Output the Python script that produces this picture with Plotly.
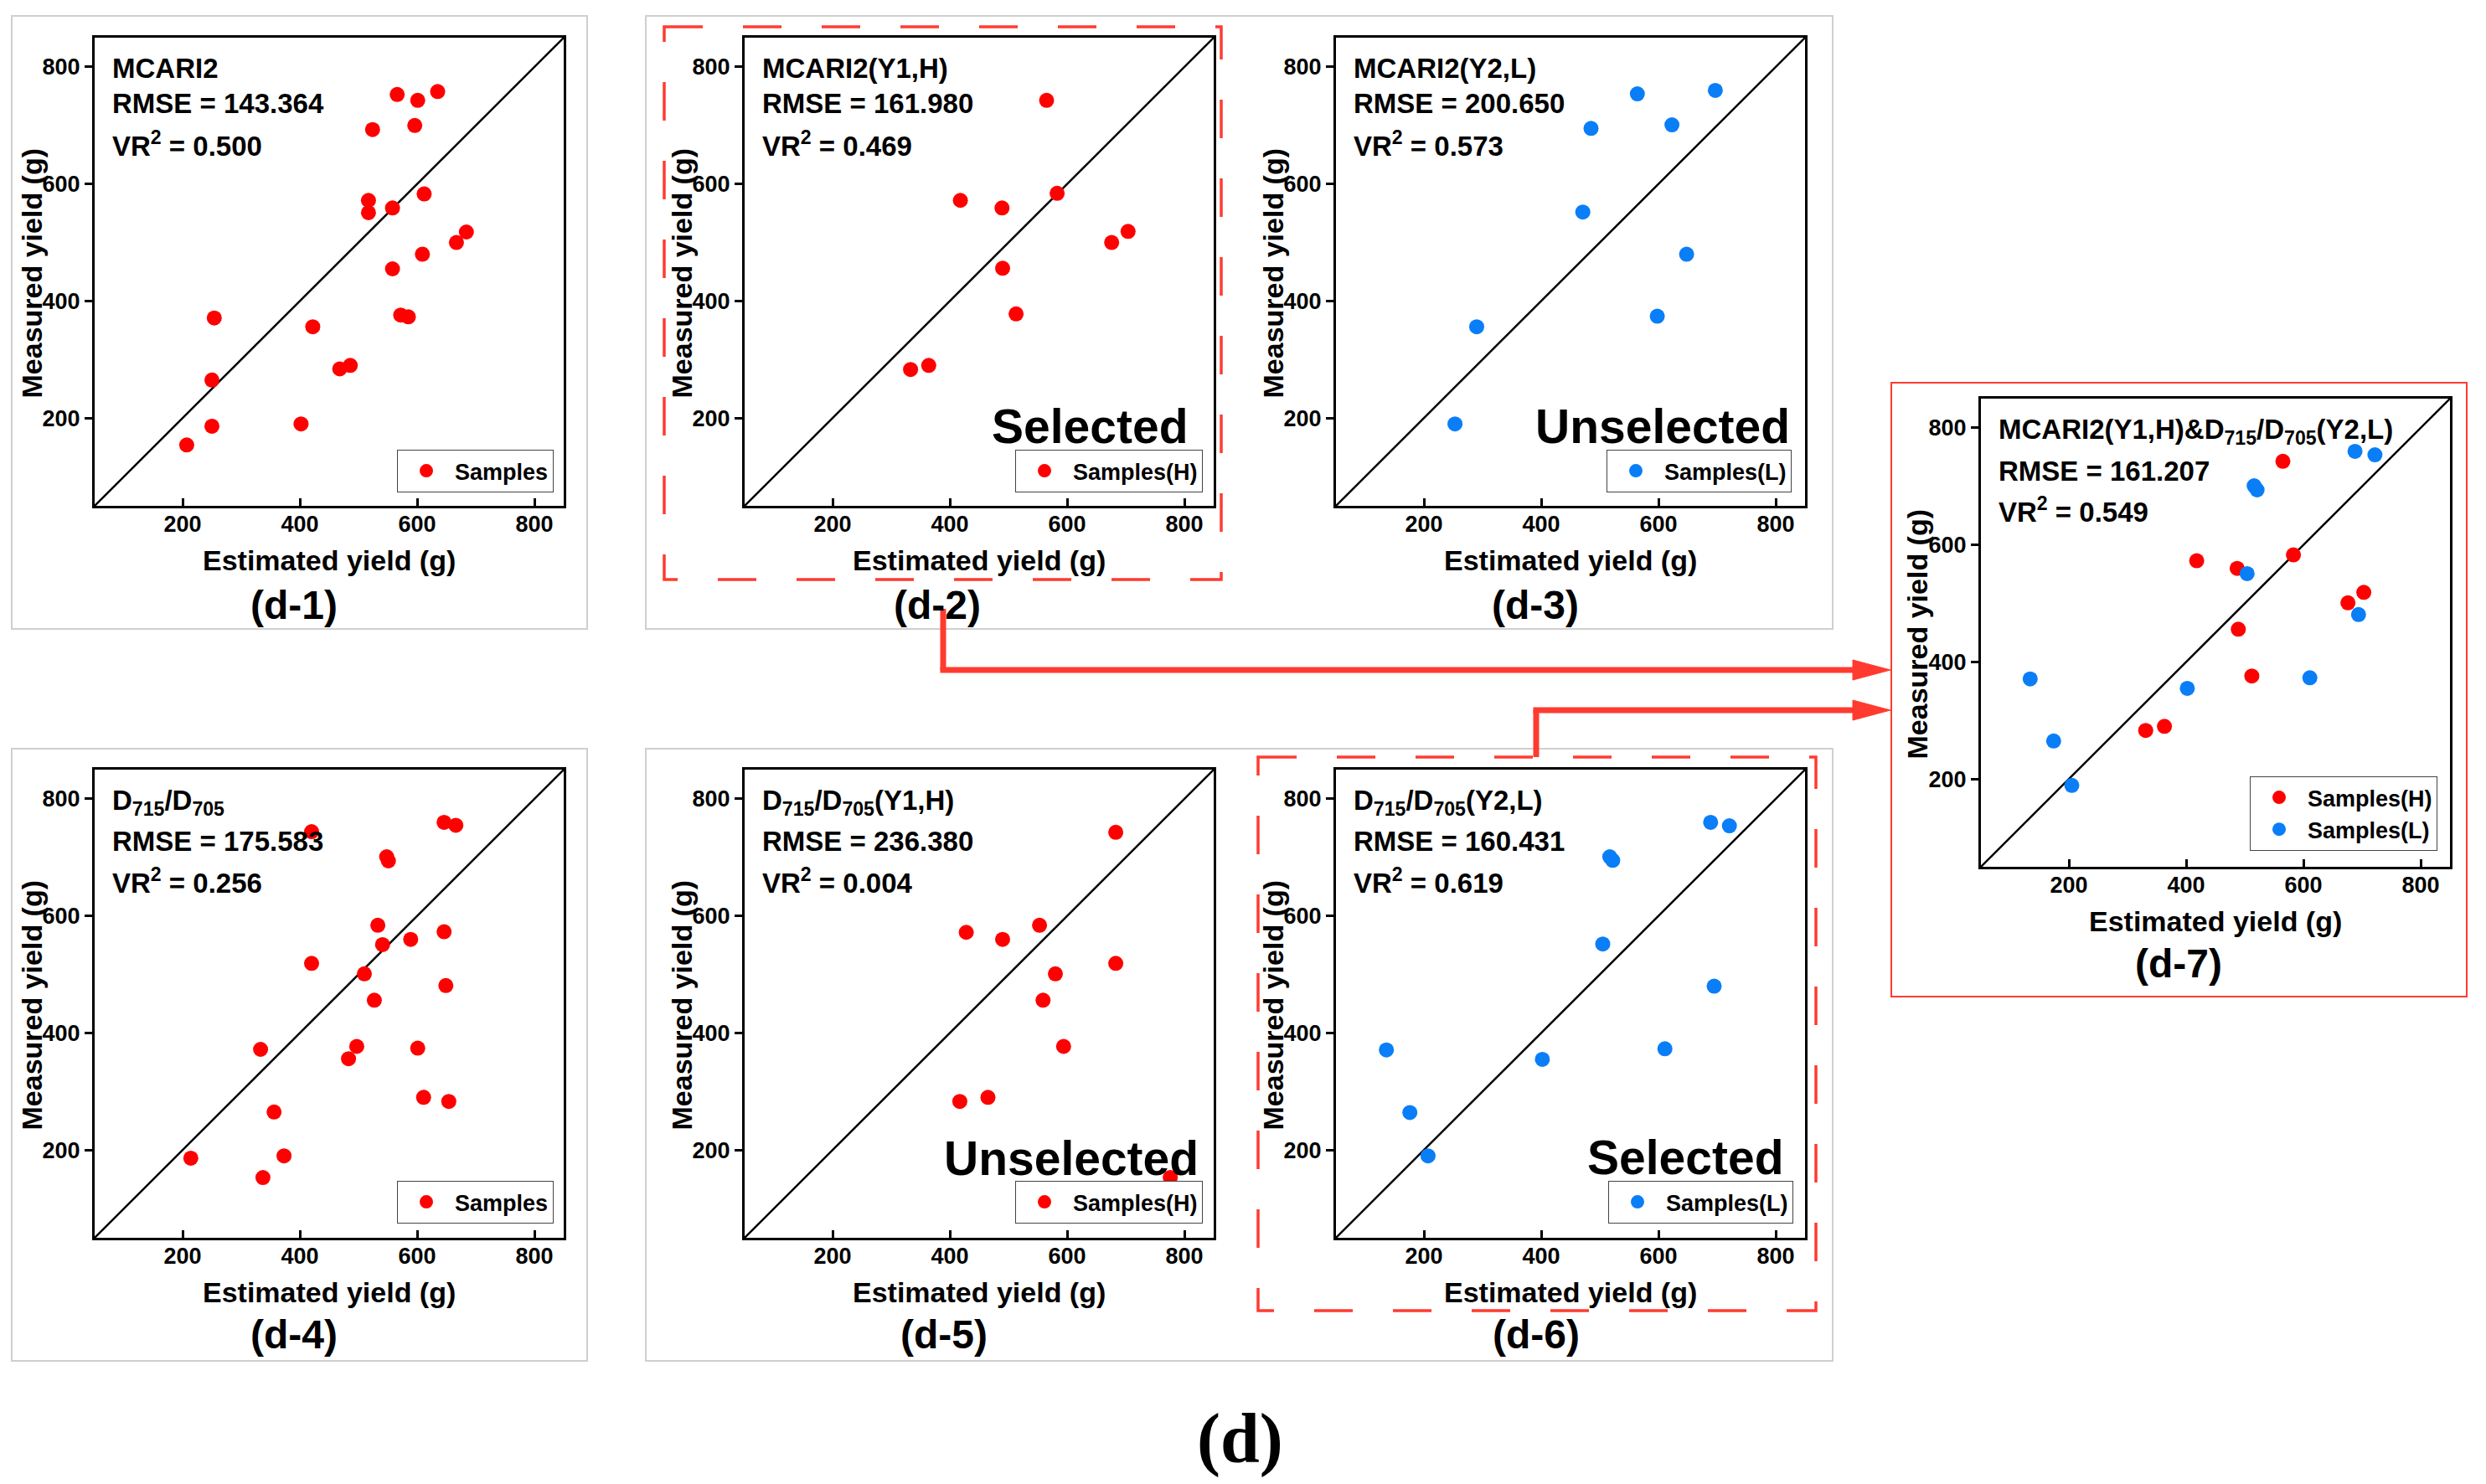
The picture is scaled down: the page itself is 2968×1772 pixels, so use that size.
import plotly.graph_objects as go

W, H = 2968, 1772

# ---------------- data ----------------
tick_vals = [200, 400, 600, 800]
axis_range = [50, 850]

d1_est = [207, 250, 250, 254, 402, 422, 468, 486, 517, 517, 524, 558, 558, 566, 572, 585, 596, 601, 609, 612, 635, 667, 684]
d1_meas = [154, 186, 265, 371, 190, 356, 284, 290, 551, 572, 693, 559, 455, 753, 376, 373, 700, 743, 480, 583, 758, 500, 518]

d2_est = [565, 418, 489, 583, 676, 704, 490, 513, 333, 364]
d2_meas = [743, 572, 559, 584, 500, 519, 456, 378, 283, 290]

d3_est = [564, 697, 485, 623, 471, 648, 598, 290, 253]
d3_meas = [754, 760, 695, 701, 552, 480, 374, 356, 190]

d4_est = [420, 646, 666, 548, 551, 533, 541, 589, 646, 420, 510, 527, 649, 333, 497, 483, 601, 611, 654, 356, 214, 373, 337]
d4_meas = [744, 760, 755, 701, 694, 584, 551, 560, 573, 519, 501, 456, 481, 372, 377, 356, 374, 290, 283, 265, 186, 190, 153]

d5_est = [683, 428, 490, 553, 580, 683, 559, 594, 417, 465, 776]
d5_meas = [743, 572, 560, 584, 501, 519, 456, 377, 283, 290, 153]

d6_est = [689, 721, 517, 522, 505, 695, 611, 136, 402, 176, 207]
d6_meas = [760, 754, 701, 695, 552, 480, 373, 371, 355, 264, 190]

d7_h_est = [565, 418, 487, 583, 676, 703, 489, 512, 331, 363]
d7_h_meas = [743, 573, 560, 583, 501, 519, 456, 376, 283, 290]
d7_l_est = [688, 722, 516, 521, 504, 694, 611, 134, 402, 174, 205]
d7_l_meas = [760, 754, 701, 694, 551, 481, 373, 371, 355, 265, 189]

names = ["MCARI2", "MCARI2(Y1,H)", "MCARI2(Y2,L)",
         "D<sub>715</sub>/D<sub>705</sub>", "D<sub>715</sub>/D<sub>705</sub>(Y1,H)",
         "D<sub>715</sub>/D<sub>705</sub>(Y2,L)",
         "MCARI2(Y1,H)&amp;D<sub>715</sub>/D<sub>705</sub>(Y2,L)"]
rmse_vals = ["143.364", "161.980", "200.650", "175.583", "236.380", "160.431", "161.207"]
vr2_vals = ["0.500", "0.469", "0.573", "0.256", "0.004", "0.619", "0.549"]
panel_labels = ["(d-1)", "(d-2)", "(d-3)", "(d-4)", "(d-5)", "(d-6)", "(d-7)"]
status_text = {2: "Selected", 3: "Unselected", 5: "Unselected", 6: "Selected"}

RED = "#FF0000"
BLUE = "#0A7EF7"
ARROW = "#FF3B30"
FONT = "Liberation Sans, Arial, sans-serif"

series = {
    1: [("Samples", d1_est, d1_meas, RED)],
    2: [("Samples(H)", d2_est, d2_meas, RED)],
    3: [("Samples(L)", d3_est, d3_meas, BLUE)],
    4: [("Samples", d4_est, d4_meas, RED)],
    5: [("Samples(H)", d5_est, d5_meas, RED)],
    6: [("Samples(L)", d6_est, d6_meas, BLUE)],
    7: [("Samples(H)", d7_h_est, d7_h_meas, RED), ("Samples(L)", d7_l_est, d7_l_meas, BLUE)],
}

# ---------------- layout geometry (pixels) ----------------
def X(px):
    return px / W

def Y(py):
    return 1 - py / H

BW, BH = 560, 559
boxes = {1: (113, 45), 2: (889, 45), 3: (1595, 45),
         4: (113, 919), 5: (889, 919), 6: (1595, 919), 7: (2365, 476)}
label_pos = {1: (351, 722), 2: (1119, 722), 3: (1833, 722),
             4: (351, 1593), 5: (1127, 1593), 6: (1834, 1593), 7: (2601, 1150)}
legend_box = {1: (661, 588), 2: (1436, 588), 3: (2139, 588),
              4: (661, 1461), 5: (1436, 1461), 6: (2141, 1461), 7: (2910, 1016)}
status_pos = {2: (1420, 509), 3: (2139, 509), 5: (1433, 1383), 6: (2131, 1382)}

fig = go.Figure()
layout = dict(width=W, height=H, margin=dict(l=0, r=0, t=0, b=0),
              paper_bgcolor="white", plot_bgcolor="white", showlegend=True)
annotations = []
shapes = []

for i in range(1, 8):
    left, top = boxes[i]
    xa = "x" if i == 1 else f"x{i}"
    ya = "y" if i == 1 else f"y{i}"
    lg = "legend" if i == 1 else f"legend{i}"
    fig.add_trace(go.Scatter(x=axis_range, y=axis_range, mode="lines",
                             line=dict(color="black", width=2.5),
                             showlegend=False, hoverinfo="skip",
                             xaxis=xa, yaxis=ya))
    for nm, xs, ys, col in series[i]:
        fig.add_trace(go.Scatter(x=xs, y=ys, mode="markers", name=nm,
                                 marker=dict(color=col, size=18),
                                 xaxis=xa, yaxis=ya, legend=lg))
    common = dict(range=axis_range, tickvals=tick_vals, showgrid=False, zeroline=False,
                  showline=True, linecolor="black", linewidth=3, mirror=True,
                  ticklen=9, tickwidth=3, tickcolor="black",
                  tickfont=dict(family=FONT, size=27, color="black", weight="bold"))
    xkey = "xaxis" if i == 1 else f"xaxis{i}"
    ykey = "yaxis" if i == 1 else f"yaxis{i}"
    layout[xkey] = dict(domain=[X(left), X(left + BW)], anchor=ya, ticks="inside",
                        ticklabelstandoff=-4, **common)
    layout[ykey] = dict(domain=[Y(top + BH), Y(top)], anchor=xa, ticks="outside", **common)

    rb, bb = legend_box[i]
    layout[lg] = dict(x=X(rb), xanchor="right", y=Y(bb), yanchor="bottom",
                      bgcolor="white", bordercolor="#444444", borderwidth=1,
                      font=dict(family=FONT, size=27, color="black", weight="bold"),
                      itemwidth=58, tracegroupgap=0)

    # text block
    sub = i >= 4
    offs = (39, 86, 133) if sub else (37, 79, 127)
    lines = [names[i - 1], f"RMSE = {rmse_vals[i - 1]}", f"VR<sup>2</sup> = {vr2_vals[i - 1]}"]
    for t, o in zip(lines, offs):
        annotations.append(dict(x=X(left + 19), y=Y(top + o), xref="paper", yref="paper",
                                xanchor="left", yanchor="middle", text=t, showarrow=False,
                                font=dict(family=FONT, size=33, color="black", weight="bold")))
    # axis titles
    annotations.append(dict(x=X(left + BW / 2), y=Y(top + BH + 65), xref="paper", yref="paper",
                            xanchor="center", yanchor="middle", text="Estimated yield (g)",
                            showarrow=False,
                            font=dict(family=FONT, size=34, color="black", weight="bold")))
    annotations.append(dict(x=X(left - 76), y=Y(top + BH / 2 + 2), xref="paper", yref="paper",
                            xanchor="center", yanchor="middle", text="Measured yield (g)",
                            textangle=-90, showarrow=False,
                            font=dict(family=FONT, size=34, color="black", weight="bold")))
    lx, ly = label_pos[i]
    annotations.append(dict(x=X(lx), y=Y(ly), xref="paper", yref="paper",
                            xanchor="center", yanchor="middle", text=panel_labels[i - 1],
                            showarrow=False,
                            font=dict(family=FONT, size=48, color="black", weight="bold")))
    if i in status_text:
        sx, sy = status_pos[i]
        annotations.append(dict(x=X(sx), y=Y(sy), xref="paper", yref="paper",
                                xanchor="right", yanchor="middle", text=status_text[i],
                                showarrow=False,
                                font=dict(family=FONT, size=57, color="black", weight="bold")))

annotations.append(dict(x=X(1480), y=Y(1718), xref="paper", yref="paper",
                        xanchor="center", yanchor="middle", text="(d)", showarrow=False,
                        font=dict(family="Liberation Serif, Times New Roman, serif", size=84,
                                  color="black", weight="bold")))

def rect(x0, y0, x1, y1, color, width, dash="solid"):
    return dict(type="rect", xref="paper", yref="paper", x0=X(x0), x1=X(x1), y0=Y(y0), y1=Y(y1),
                line=dict(color=color, width=width, dash=dash), fillcolor="rgba(0,0,0,0)",
                layer="below")

# grey frames
shapes.append(rect(14, 19, 701, 751, "#CFCFCF", 2))
shapes.append(rect(771, 19, 2188, 751, "#CFCFCF", 2))
shapes.append(rect(14, 894, 701, 1625, "#CFCFCF", 2))
shapes.append(rect(771, 894, 2188, 1625, "#CFCFCF", 2))
# red frame d-7
shapes.append(rect(2258, 457, 2945, 1190, ARROW, 2))
# dashed red boxes
shapes.append(rect(793, 32, 1458, 692, ARROW, 3.5, "46px,48px"))
shapes.append(rect(1502, 904, 2168, 1565, ARROW, 3.5, "46px,48px"))

def seg(x0, y0, x1, y1):
    return dict(type="line", xref="paper", yref="paper", x0=X(x0), y0=Y(y0), x1=X(x1), y1=Y(y1),
                line=dict(color=ARROW, width=7))

def head(tipx, y):
    return dict(type="path", xref="paper", yref="paper",
                path=f"M {X(tipx)},{Y(y)} L {X(tipx - 45)},{Y(y - 12)} L {X(tipx - 45)},{Y(y + 12)} Z",
                fillcolor=ARROW, line=dict(color=ARROW, width=1))

shapes += [seg(1126, 727, 1126, 800), seg(1122.5, 800, 2215, 800), head(2257, 800),
           seg(1834, 904, 1834, 848), seg(1830.5, 848, 2215, 848), head(2257, 848)]

layout["annotations"] = annotations
layout["shapes"] = shapes
fig.update_layout(**layout)
fig.write_html("out.html", config={"displayModeBar": False},
               post_script="document.body.style.margin='0';document.body.style.overflow='hidden';")
